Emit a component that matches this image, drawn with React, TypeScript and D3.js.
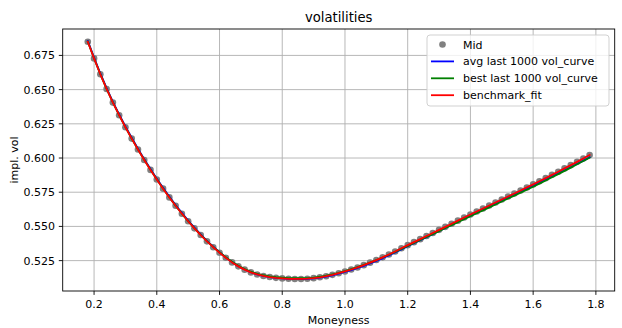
import React, { useEffect, useRef } from "react";
import * as d3 from "d3";

const moneyness = [
  0.18, 0.2, 0.22, 0.24, 0.26, 0.28, 0.3, 0.32, 0.34, 0.36, 0.38, 0.4, 0.42, 0.44, 0.46, 0.48, 0.5,
  0.52, 0.54, 0.56, 0.58, 0.6, 0.62, 0.64, 0.66, 0.68, 0.7, 0.72, 0.74, 0.76, 0.78, 0.8, 0.82, 0.84,
  0.86, 0.88, 0.9, 0.92, 0.94, 0.96, 0.98, 1.0, 1.02, 1.04, 1.06, 1.08, 1.1, 1.12, 1.14, 1.16, 1.18,
  1.2, 1.22, 1.24, 1.26, 1.28, 1.3, 1.32, 1.34, 1.36, 1.38, 1.4, 1.42, 1.44, 1.46, 1.48, 1.5, 1.52,
  1.54, 1.56, 1.58, 1.6, 1.62, 1.64, 1.66, 1.68, 1.7, 1.72, 1.74, 1.76, 1.78,
];

const midVol = [
  0.685, 0.6728, 0.6612, 0.6505, 0.6405, 0.6313, 0.6225, 0.6142, 0.6062, 0.5986, 0.5913, 0.5843,
  0.5776, 0.5712, 0.5651, 0.5593, 0.5538, 0.5486, 0.5437, 0.5391, 0.5348, 0.5308, 0.5271, 0.5237,
  0.5208, 0.5184, 0.5164, 0.5149, 0.5138, 0.513, 0.5124, 0.512, 0.5117, 0.5116, 0.5116, 0.5118,
  0.5122, 0.5128, 0.5136, 0.5146, 0.5158, 0.5171, 0.5185, 0.52, 0.5217, 0.5235, 0.5254, 0.5274,
  0.5295, 0.5317, 0.534, 0.5363, 0.5385, 0.5407, 0.543, 0.5452, 0.5475, 0.5497, 0.552, 0.5542,
  0.5565, 0.5587, 0.5609, 0.5631, 0.5653, 0.5675, 0.5697, 0.5719, 0.5741, 0.5763, 0.5785, 0.5807,
  0.583, 0.5853, 0.5877, 0.59, 0.5924, 0.5948, 0.5972, 0.5997, 0.6022,
];

const avgCurve = [
  0.6856, 0.6734, 0.6618, 0.6511, 0.6411, 0.6319, 0.6231, 0.6148, 0.6068, 0.5992, 0.5919, 0.5849,
  0.5782, 0.5718, 0.5657, 0.5599, 0.5543, 0.5491, 0.5442, 0.5395, 0.5352, 0.5311, 0.5273, 0.5239,
  0.5209, 0.5185, 0.5165, 0.5149, 0.5138, 0.513, 0.5124, 0.512, 0.5117, 0.5116, 0.5115, 0.5117,
  0.5121, 0.5126, 0.5134, 0.5143, 0.5155, 0.5167, 0.5181, 0.5196, 0.5212, 0.5229, 0.5248, 0.5267,
  0.5288, 0.5309, 0.5332, 0.5355, 0.5377, 0.5399, 0.5422, 0.5444, 0.5467, 0.5489, 0.5512, 0.5534,
  0.5557, 0.5579, 0.5601, 0.5623, 0.5645, 0.5667, 0.5689, 0.5711, 0.5733, 0.5755, 0.5776, 0.5798,
  0.582, 0.5843, 0.5866, 0.5888, 0.5911, 0.5934, 0.5957, 0.5981, 0.6005,
];

const bestCurve = [
  0.6851, 0.6729, 0.6613, 0.6506, 0.6406, 0.6314, 0.6226, 0.6143, 0.6063, 0.5987, 0.5914, 0.5844,
  0.5777, 0.5713, 0.5652, 0.5594, 0.5539, 0.5487, 0.5438, 0.5393, 0.535, 0.5311, 0.5275, 0.5242,
  0.5213, 0.5189, 0.5169, 0.5154, 0.5143, 0.5135, 0.5129, 0.5125, 0.5122, 0.5121, 0.5121, 0.5122,
  0.5126, 0.5132, 0.514, 0.515, 0.5161, 0.5174, 0.5188, 0.5203, 0.5219, 0.5236, 0.5254, 0.5273,
  0.5293, 0.5314, 0.5336, 0.5358, 0.538, 0.5401, 0.5423, 0.5444, 0.5466, 0.5488, 0.5509, 0.5531,
  0.5552, 0.5574, 0.5596, 0.5617, 0.5639, 0.566, 0.5682, 0.5704, 0.5725, 0.5747, 0.5768, 0.579,
  0.5813, 0.5836, 0.5859, 0.5882, 0.5906, 0.593, 0.5954, 0.5978, 0.6002,
];

const benchmarkFit = [
  0.685, 0.6728, 0.6612, 0.6505, 0.6405, 0.6313, 0.6225, 0.6142, 0.6062, 0.5986, 0.5913, 0.5843,
  0.5776, 0.5712, 0.5651, 0.5593, 0.5538, 0.5486, 0.5437, 0.5391, 0.5348, 0.5308, 0.5271, 0.5237,
  0.5208, 0.5184, 0.5164, 0.5149, 0.5138, 0.513, 0.5124, 0.512, 0.5117, 0.5116, 0.5116, 0.5118,
  0.5122, 0.5128, 0.5136, 0.5146, 0.5158, 0.5171, 0.5185, 0.52, 0.5217, 0.5235, 0.5254, 0.5274,
  0.5295, 0.5317, 0.534, 0.5363, 0.5385, 0.5407, 0.543, 0.5452, 0.5475, 0.5497, 0.552, 0.5542,
  0.5565, 0.5587, 0.5609, 0.5631, 0.5653, 0.5675, 0.5697, 0.5719, 0.5741, 0.5763, 0.5785, 0.5807,
  0.583, 0.5853, 0.5877, 0.59, 0.5924, 0.5948, 0.5972, 0.5997, 0.6022,
];

const xTicks = [0.2, 0.4, 0.6, 0.8, 1.0, 1.2, 1.4, 1.6, 1.8];
const yTicks = [0.525, 0.55, 0.575, 0.6, 0.625, 0.65, 0.675];

const lineSeries = [
  { label: "avg last 1000 vol_curve", values: avgCurve, color: "#0000ff" },
  { label: "best last 1000 vol_curve", values: bestCurve, color: "#008000" },
  { label: "benchmark_fit", values: benchmarkFit, color: "#ff0000" },
];

const W = 622;
const H = 328;
const FONT = "DejaVu Sans, sans-serif";

export default function App() {
  const ref = useRef<SVGSVGElement>(null);

  useEffect(() => {
    const svg = d3.select(ref.current);
    svg.selectAll("*").remove();

    const left = 62.7;
    const right = 614.7;
    const top = 29;
    const bottom = 291;

    // matplotlib-like 5% margins
    const xExt = d3.extent(moneyness) as [number, number];
    const xPad = (xExt[1] - xExt[0]) * 0.05;
    const allY = [...midVol, ...avgCurve, ...bestCurve, ...benchmarkFit];
    const yExt = d3.extent(allY) as [number, number];
    const yPad = (yExt[1] - yExt[0]) * 0.05;

    const x = d3.scaleLinear().domain([xExt[0] - xPad, xExt[1] + xPad]).range([left, right]);
    const y = d3.scaleLinear().domain([yExt[0] - yPad, yExt[1] + yPad]).range([bottom, top]);

    const g = svg.append("g");

    // grid
    g.selectAll(".gx")
      .data(xTicks)
      .enter()
      .append("line")
      .attr("x1", (d) => x(d))
      .attr("x2", (d) => x(d))
      .attr("y1", top)
      .attr("y2", bottom)
      .attr("stroke", "#b0b0b0")
      .attr("stroke-width", 0.9);
    g.selectAll(".gy")
      .data(yTicks)
      .enter()
      .append("line")
      .attr("x1", left)
      .attr("x2", right)
      .attr("y1", (d) => y(d))
      .attr("y2", (d) => y(d))
      .attr("stroke", "#b0b0b0")
      .attr("stroke-width", 0.9);

    // scatter
    g.selectAll(".dot")
      .data(moneyness)
      .enter()
      .append("circle")
      .attr("cx", (d) => x(d))
      .attr("cy", (_, i) => y(midVol[i]))
      .attr("r", 3.3)
      .attr("fill", "#808080");

    const line = d3
      .line<number>()
      .x((_, i) => x(moneyness[i]))
      .y((d) => y(d));

    lineSeries.forEach((s) => {
      g.append("path")
        .attr("d", line(s.values))
        .attr("fill", "none")
        .attr("stroke", s.color)
        .attr("stroke-width", 1.8)
        .attr("stroke-linejoin", "round")
        .attr("stroke-linecap", "square");
    });

    // spines
    g.append("rect")
      .attr("x", left)
      .attr("y", top)
      .attr("width", right - left)
      .attr("height", bottom - top)
      .attr("fill", "none")
      .attr("stroke", "#000")
      .attr("stroke-width", 0.9);

    // x ticks
    xTicks.forEach((t) => {
      g.append("line")
        .attr("x1", x(t))
        .attr("x2", x(t))
        .attr("y1", bottom)
        .attr("y2", bottom + 3.9)
        .attr("stroke", "#000")
        .attr("stroke-width", 0.9);
      g.append("text")
        .attr("x", x(t))
        .attr("y", 308)
        .attr("text-anchor", "middle")
        .style("font-family", FONT)
        .style("font-size", "11px")
        .attr("fill", "#000")
        .text(t.toFixed(1));
    });

    // y ticks
    yTicks.forEach((t) => {
      g.append("line")
        .attr("x1", left - 3.9)
        .attr("x2", left)
        .attr("y1", y(t))
        .attr("y2", y(t))
        .attr("stroke", "#000")
        .attr("stroke-width", 0.9);
      g.append("text")
        .attr("x", 55)
        .attr("y", y(t) + 4)
        .attr("text-anchor", "end")
        .style("font-family", FONT)
        .style("font-size", "11px")
        .attr("fill", "#000")
        .text(t.toFixed(3));
    });

    // title & labels
    svg
      .append("text")
      .attr("x", (left + right) / 2)
      .attr("y", 22)
      .attr("text-anchor", "middle")
      .style("font-family", FONT)
      .style("font-size", "13.2px")
      .text("volatilities");
    svg
      .append("text")
      .attr("x", (left + right) / 2)
      .attr("y", 324)
      .attr("text-anchor", "middle")
      .style("font-family", FONT)
      .style("font-size", "11px")
      .text("Moneyness");
    svg
      .append("text")
      .attr("transform", `translate(18, ${(top + bottom) / 2}) rotate(-90)`)
      .attr("text-anchor", "middle")
      .style("font-family", FONT)
      .style("font-size", "11px")
      .text("impl. vol");

    // legend
    const lg = svg.append("g");
    lg.append("rect")
      .attr("x", 427)
      .attr("y", 35)
      .attr("width", 182)
      .attr("height", 71)
      .attr("rx", 3)
      .attr("fill", "#fff")
      .attr("fill-opacity", 0.8)
      .attr("stroke", "#cccccc")
      .attr("stroke-width", 0.9);
    const rowY = (i: number) => 44.5 + i * 16.9;
    lg.append("circle").attr("cx", 442.5).attr("cy", rowY(0)).attr("r", 3.3).attr("fill", "#808080");
    lg.append("text")
      .attr("x", 463)
      .attr("y", rowY(0) + 4)
      .style("font-family", FONT)
      .style("font-size", "11px")
      .text("Mid");
    lineSeries.forEach((s, i) => {
      lg.append("line")
        .attr("x1", 431)
        .attr("x2", 454)
        .attr("y1", rowY(i + 1))
        .attr("y2", rowY(i + 1))
        .attr("stroke", s.color)
        .attr("stroke-width", 1.8);
      lg.append("text")
        .attr("x", 463)
        .attr("y", rowY(i + 1) + 4)
        .style("font-family", FONT)
        .style("font-size", "11px")
        .text(s.label);
    });
  }, []);

  return (
    <svg
      ref={ref}
      width={W}
      height={H}
      style={{ position: "absolute", left: 0, top: 0, background: "#fff" }}
    />
  );
}
